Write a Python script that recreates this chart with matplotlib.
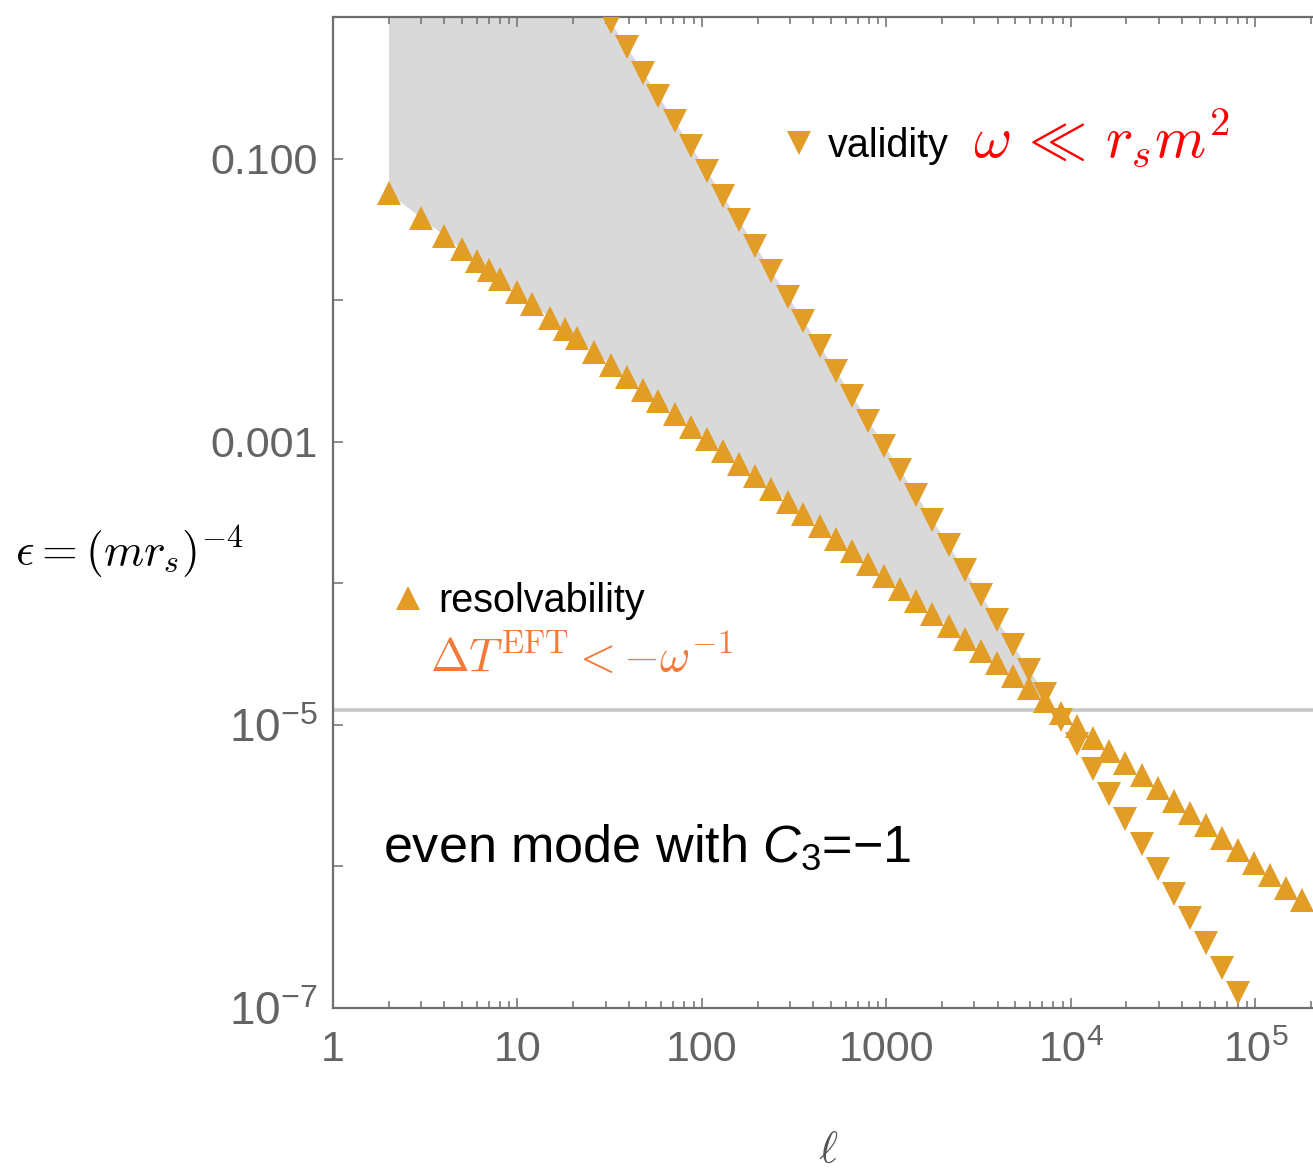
import numpy as np
import matplotlib
matplotlib.use("Agg")
import matplotlib.pyplot as plt
from matplotlib.ticker import FixedLocator, NullLocator, FixedFormatter

plt.rcParams['font.family'] = ['Liberation Sans', 'DejaVu Sans']
plt.rcParams['mathtext.fontset'] = 'custom'
plt.rcParams['mathtext.rm'] = 'Liberation Sans'
plt.rcParams['mathtext.it'] = 'Liberation Sans:italic'
plt.rcParams['mathtext.bf'] = 'Liberation Sans:bold'

# multipole number l (shared by both series)
ell = [2, 3, 4, 5, 6, 7, 8, 10, 12, 15, 18, 21, 26, 32, 39, 48, 58, 71, 87,
       106, 130, 158, 194, 238, 292, 355, 435, 532, 650, 795, 972, 1188,
       1452, 1775, 2170, 2652, 3242, 3963, 4844, 5921, 7238, 8848, 10815,
       13220, 16160, 19754, 24147, 29517, 36081, 44105, 53914, 65903, 80559,
       98474, 120373, 147143, 179866]

# resolvability bound (up triangles)
eps_resolv = [0.0575, 0.0383, 0.0286, 0.0229, 0.0190, 0.0163, 0.0142, 0.01135,
              0.00944, 0.00754, 0.00627, 0.00537, 0.00433, 0.00351, 0.00288,
              0.00233, 0.00193, 0.00157, 0.00128, 0.00105, 8.53e-4, 7.01e-4,
              5.70e-4, 4.63e-4, 3.77e-4, 3.10e-4, 2.52e-4, 2.06e-4, 1.68e-4,
              1.37e-4, 1.12e-4, 9.14e-5, 7.48e-5, 6.11e-5, 4.99e-5, 4.07e-5,
              3.33e-5, 2.72e-5, 2.22e-5, 1.81e-5, 1.48e-5, 1.21e-5, 9.86e-6,
              8.05e-6, 6.58e-6, 5.37e-6, 4.39e-6, 3.58e-6, 2.92e-6, 2.39e-6,
              1.95e-6, 1.59e-6, 1.30e-6, 1.06e-6, 8.67e-7, 7.08e-7, 5.78e-7]

# validity bound (down triangles), same l up to 80559
eps_valid = [245.0, 108.0, 60.5, 38.6, 26.7, 19.6, 15.0, 9.55, 6.61, 4.22,
             2.92, 2.14, 1.39, 0.916, 0.614, 0.405, 0.276, 0.184, 0.122,
             0.0818, 0.0542, 0.0366, 0.0242, 0.0160, 0.0106, 0.00716, 0.00475,
             0.00317, 0.00211, 0.00141, 9.40e-4, 6.27e-4, 4.18e-4, 2.79e-4,
             1.86e-4, 1.24e-4, 8.28e-5, 5.52e-5, 3.69e-5, 2.46e-5, 1.64e-5,
             1.09e-5, 7.30e-6, 4.88e-6, 3.25e-6, 2.17e-6, 1.45e-6, 9.64e-7,
             6.43e-7, 4.30e-7, 2.86e-7, 1.91e-7, 1.27e-7]

eps_line = 1.28e-5

xticks = [1, 10, 100, 1000, 1e4, 1e5]
xlabels = ['1', '10', '100', '1000', r'$10^4$', r'$10^5$']
yticks = [1e-7, 1e-6, 1e-5, 1e-4, 1e-3, 1e-2, 1e-1]
ylabels = [r'$10^{-7}$', '', r'$10^{-5}$', '', '0.001', '', '0.100']

W, H = 1313, 1176
orange = '#E29D26'
axcol = '#6e6e6e'

fig = plt.figure(figsize=(W / 100, H / 100), dpi=100)
ax = fig.add_axes([333 / W, 1 - 1008 / H, (1320 - 333) / W, (1008 - 17) / H])
ax.set_xscale('log')
ax.set_yscale('log')
ax.set_xlim(1, 10 ** 5.35)
ax.set_ylim(1e-7, 1)

n = len(eps_valid)
l_arr = np.array(ell[:n], dtype=float)
up = np.array(eps_resolv[:n])
dn = np.array(eps_valid)
ax.fill_between(l_arr, up, dn, where=dn >= up, interpolate=True,
                color='#d9d9d9', lw=0, zorder=1)
ax.axhline(eps_line, color='#c8c8c8', lw=2.6, zorder=2)

ax.plot(ell, eps_resolv, ls='none', marker='^', ms=16.6, color=orange,
        mew=0, zorder=3, clip_on=True)
ax.plot(ell[:n], eps_valid, ls='none', marker='v', ms=16.6, color=orange,
        mew=0, zorder=3, clip_on=True)

# axes styling
for side in ['left', 'bottom', 'top']:
    ax.spines[side].set_color(axcol)
    ax.spines[side].set_linewidth(1.6)
ax.spines['right'].set_visible(False)

ax.xaxis.set_major_locator(FixedLocator(xticks))
ax.xaxis.set_major_formatter(FixedFormatter(xlabels))
minors = [m * 10 ** d for d in range(0, 6) for m in range(2, 10)]
ax.xaxis.set_minor_locator(FixedLocator(minors))
ax.yaxis.set_major_locator(FixedLocator(yticks))
ax.yaxis.set_major_formatter(FixedFormatter(ylabels))
ax.yaxis.set_minor_locator(NullLocator())

ax.tick_params(which='both', direction='in', top=True, right=False,
               color=axcol, width=1.1, labelcolor='#646464', labelsize=31)
ax.tick_params(which='major', length=7.5)
ax.tick_params(which='minor', length=5)
ax.tick_params(axis='x', pad=16)
ax.tick_params(axis='y', pad=11)
fig.canvas.draw()
for lab in ax.get_yticklabels():
    if '$' in lab.get_text():
        lab.set_fontsize(33)

# legend-like markers and labels
fig.add_artist(plt.Line2D([799 / W], [1 - 143 / H], marker='v', ms=16.6,
                          color=orange, mew=0, ls='none'))
fig.add_artist(plt.Line2D([408 / W], [1 - 598 / H], marker='^', ms=16.6,
                          color=orange, mew=0, ls='none'))

fig.text(828 / W, 1 - 157 / H, 'validity', fontsize=28.5, color='black',
         va='baseline', ha='left')
fig.text(973 / W, 1 - 157 / H, r'$\omega\,\ll\, r_s m^2$', fontsize=42,
         color='red', va='baseline', ha='left', math_fontfamily='cm')
fig.text(438 / W, 1 - 612 / H, 'resolvability', fontsize=28.5,
         color='black', va='baseline', ha='left')
fig.text(430 / W, 1 - 672 / H, r'$\Delta T^{\mathrm{EFT}} < -\omega^{-1}$',
         fontsize=33.5, color='#F47A3C', va='baseline', ha='left',
         math_fontfamily='cm')
fig.text(383 / W, 1 - 862 / H, 'even mode with $C_3$=\u22121', fontsize=37.5,
         color='black', va='baseline', ha='left')

fig.text(15 / W, 1 - 565 / H, r'$\epsilon = (m r_s)^{-4}$', fontsize=33,
         color='black', va='baseline', ha='left', math_fontfamily='cm')
fig.text(828 / W, 1 - 1163 / H, r'$\ell$', fontsize=33, color='#555555',
         va='baseline', ha='center', math_fontfamily='cm')

fig.savefig('out.png', dpi=100, facecolor='white')
